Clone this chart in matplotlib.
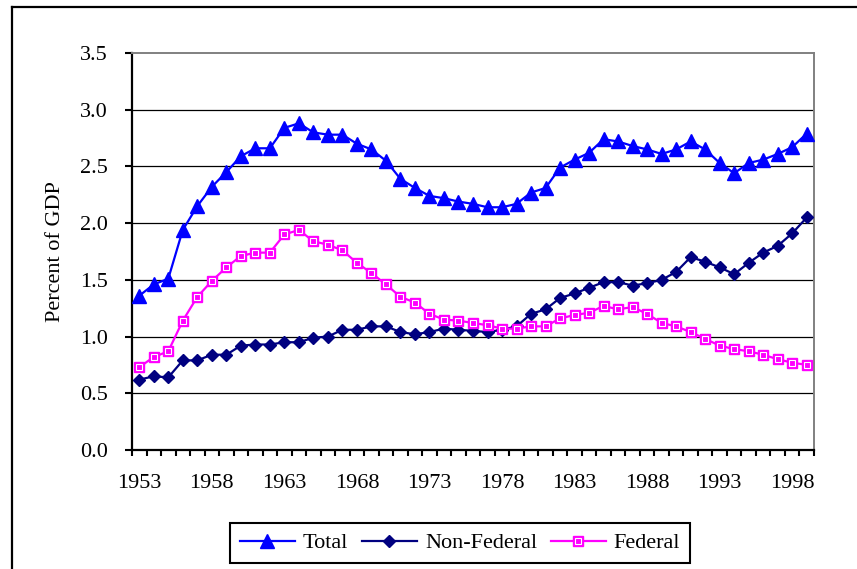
import matplotlib.pyplot as plt
from matplotlib.lines import Line2D
from matplotlib.legend_handler import HandlerTuple
import numpy as np

years = list(range(1953, 2000))

total = [1.36, 1.46, 1.51, 1.94, 2.15, 2.32, 2.45, 2.59, 2.66, 2.66,
         2.84, 2.88, 2.80, 2.78, 2.78, 2.70, 2.65, 2.55, 2.39, 2.31,
         2.24, 2.22, 2.19, 2.17, 2.14, 2.14, 2.17, 2.27, 2.31, 2.49,
         2.56, 2.62, 2.74, 2.72, 2.68, 2.65, 2.61, 2.65, 2.72, 2.65,
         2.53, 2.44, 2.53, 2.56, 2.61, 2.67, 2.79]

non_federal = [0.62, 0.65, 0.64, 0.79, 0.79, 0.84, 0.84, 0.92, 0.93, 0.93,
               0.95, 0.95, 0.99, 1.00, 1.06, 1.06, 1.09, 1.09, 1.04, 1.02,
               1.04, 1.07, 1.06, 1.05, 1.04, 1.06, 1.09, 1.20, 1.24, 1.34,
               1.38, 1.43, 1.48, 1.48, 1.45, 1.47, 1.50, 1.57, 1.70, 1.66,
               1.61, 1.55, 1.65, 1.74, 1.80, 1.91, 2.05]

federal = [0.73, 0.82, 0.87, 1.14, 1.35, 1.49, 1.61, 1.71, 1.74, 1.74,
           1.90, 1.94, 1.84, 1.81, 1.76, 1.65, 1.56, 1.46, 1.35, 1.30,
           1.20, 1.15, 1.14, 1.12, 1.10, 1.07, 1.07, 1.09, 1.09, 1.16,
           1.19, 1.21, 1.27, 1.24, 1.26, 1.20, 1.12, 1.09, 1.04, 0.98,
           0.92, 0.89, 0.87, 0.84, 0.80, 0.77, 0.75]

year_labels = [str(y) for y in years[::5]]

plt.rcParams['font.family'] = ['Liberation Serif', 'DejaVu Serif']
plt.rcParams['font.size'] = 16

fig = plt.figure(figsize=(8.57, 5.69), dpi=100)
ax = fig.add_axes([132 / 857, 1 - 450 / 569, (814 - 132) / 857, (450 - 53) / 569])

x = np.arange(len(years))

l_tot, = ax.plot(x, total, color='#0000FF', lw=1.6, marker='^', ms=9.5,
                 mec='#0000FF', mfc='#0000FF', zorder=4)
l_non, = ax.plot(x, non_federal, color='#000080', lw=1.6, marker='D', ms=6.5,
                 mec='#000080', mfc='#000080', zorder=4)
l_fed, = ax.plot(x, federal, color='#FF00FF', lw=1.6, marker='s', ms=7.5,
                 mec='#FF00FF', mfc='#FF00FF', zorder=4)
l_fed_in, = ax.plot(x, federal, ls='none', marker='s', ms=4.2,
                    mec='white', mfc='#FF00FF', mew=0.8, zorder=5)

ax.set_xlim(-0.5, len(years) - 0.5)
ax.set_ylim(0, 3.5)

ax.set_yticks(np.arange(0, 3.51, 0.5))
ax.set_yticklabels(['%.1f' % v for v in np.arange(0, 3.51, 0.5)])
ax.set_xticks(x[::5])
ax.set_xticklabels(year_labels)
ax.set_xticks(np.arange(-0.5, len(years), 1), minor=True)
ax.tick_params(axis='x', which='major', length=0, pad=17)
ax.tick_params(axis='x', which='minor', length=4, width=1.5, direction='out')
ax.tick_params(axis='y', length=5, width=1.5, direction='out', pad=12.5)

for v in np.arange(0.5, 3.01, 0.5):
    ax.axhline(v, color='black', lw=0.9, zorder=1)

ax.spines['left'].set_linewidth(1.6)
ax.spines['bottom'].set_linewidth(1.6)
for s in ['top', 'right']:
    ax.spines[s].set_color('#808080')
    ax.spines[s].set_linewidth(1.4)

ax.set_ylabel('Percent of GDP', labelpad=11)

leg = fig.legend([l_tot, l_non, (l_fed, l_fed_in)], ['Total', 'Non-Federal', 'Federal'],
                 handler_map={tuple: HandlerTuple(ndivide=1, pad=0)},
                 loc='center', bbox_to_anchor=(460 / 857, 1 - 543 / 569), ncol=3,
                 fancybox=False, framealpha=1, edgecolor='black',
                 handlelength=2.5, handletextpad=0.35, columnspacing=0.6,
                 borderpad=0.45, fontsize=16)
leg.get_frame().set_linewidth(1.5)

# outer chart border (cropped on the right and bottom)
fig.add_artist(Line2D([12 / 857, 12 / 857], [-0.1, 1 - 7 / 569],
                      transform=fig.transFigure, color='black', lw=1.6))
fig.add_artist(Line2D([12 / 857, 1.1], [1 - 7 / 569, 1 - 7 / 569],
                      transform=fig.transFigure, color='black', lw=1.6))

fig.savefig('out.png', dpi=100)
